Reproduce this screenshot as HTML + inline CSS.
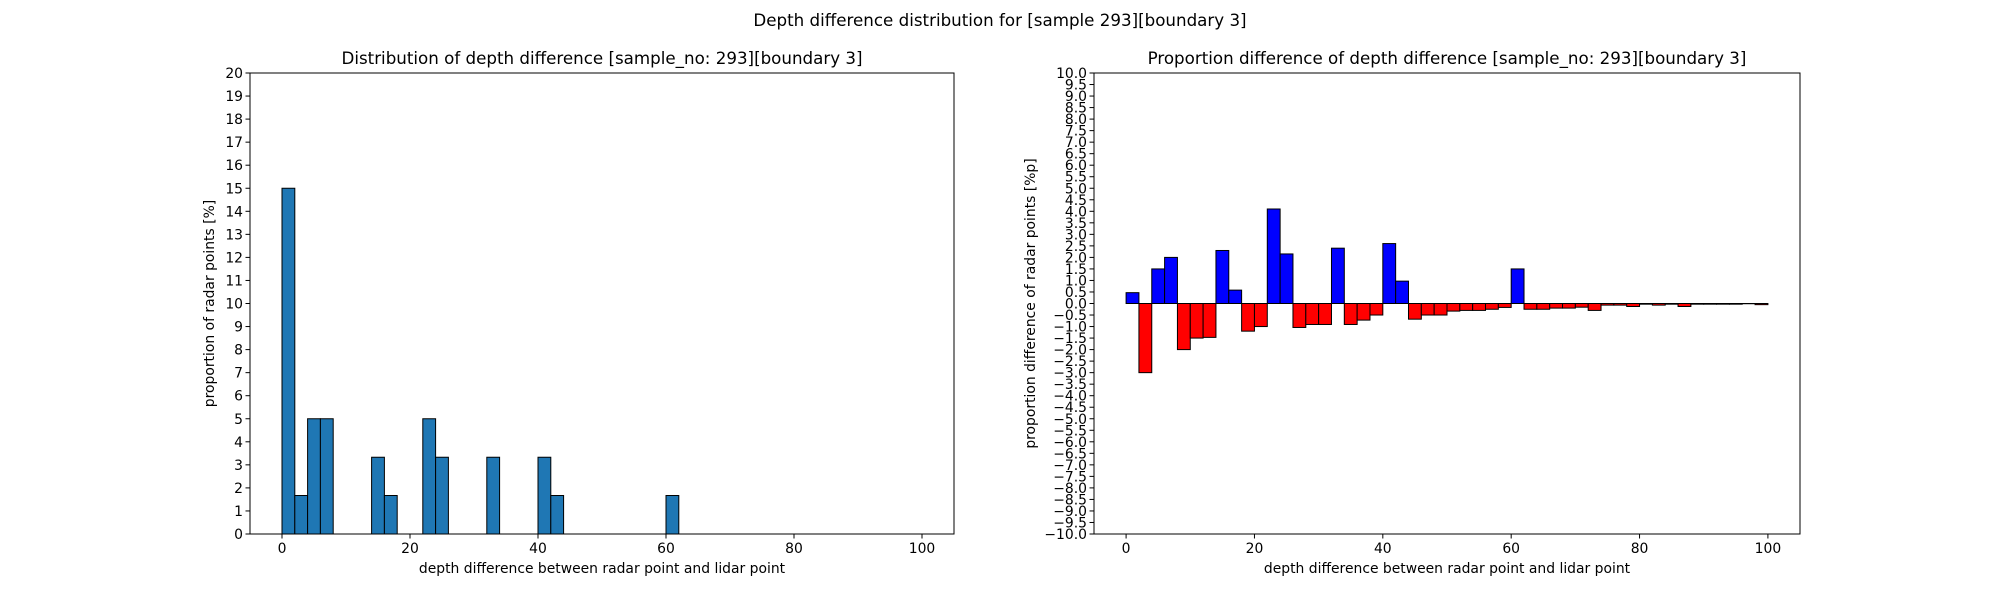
<!DOCTYPE html>
<html><head><meta charset="utf-8"><style>
html,body{margin:0;padding:0;background:#fff;}
svg text{font-family:"DejaVu Sans","Liberation Sans",sans-serif;fill:#000;}
</style></head><body>
<svg id="fig" width="2000" height="600" xmlns="http://www.w3.org/2000/svg">
<text x="1000" y="26" font-size="16.7" text-anchor="middle">Depth difference distribution for [sample 293][boundary 3]</text>
<g id="left"></g>
<g id="right"></g>
</svg>
<script>
const leftBinStarts=[0,2,4,6,14,16,22,24,32,40,42,60];
const leftValues=[15,1.67,5,5,3.33,1.67,5,3.33,3.33,3.33,1.67,1.67];
const leftYTicks=[0,1,2,3,4,5,6,7,8,9,10,11,12,13,14,15,16,17,18,19,20];
const xTicks=[0,20,40,60,80,100];
const rightBinStarts=[0,2,4,6,8,10,12,14,16,18,20,22,24,26,28,30,32,34,36,38,40,42,44,46,48,50,52,54,56,58,60,62,64,66,68,70,72,74,76,78,80,82,84,86,88,90,92,94,96,98];
const rightValues=[0.47,-3.0,1.5,2.0,-2.0,-1.5,-1.47,2.3,0.58,-1.2,-1.0,4.1,2.15,-1.04,-0.91,-0.91,2.4,-0.91,-0.72,-0.5,2.6,0.97,-0.68,-0.5,-0.5,-0.33,-0.3,-0.3,-0.25,-0.17,1.5,-0.25,-0.25,-0.2,-0.2,-0.16,-0.3,-0.07,-0.07,-0.13,-0.03,-0.07,-0.03,-0.13,-0.03,-0.03,-0.03,-0.03,-0.01,-0.05];
const rightYTicks=[];for(let i=0;i<=40;i++)rightYTicks.push(-10+i*0.5);
const binWidth=2;

const NS="http://www.w3.org/2000/svg";
function mk(parent,tag,attrs){const e=document.createElementNS(NS,tag);for(const k in attrs)e.setAttribute(k,attrs[k]);parent.appendChild(e);return e;}
function fmt(v){let s=v.toFixed(1);if(v<0)s="\u2212"+(-v).toFixed(1);return s;}

function drawChart(g,o){
  const {x0,x1,y0,y1,xmin,xmax,ymin,ymax}=o;
  const sx=v=>x0+(v-xmin)/(xmax-xmin)*(x1-x0);
  const sy=v=>y1-(v-ymin)/(ymax-ymin)*(y1-y0);
  // bars
  o.starts.forEach((b,i)=>{
    const v=o.values[i];
    const r=mk(g,'rect',{x:sx(b),y:Math.min(sy(v),sy(0)),width:sx(b+binWidth)-sx(b),height:Math.abs(sy(v)-sy(0)),fill:o.color?o.color:(v>=0?'#0000ff':'#ff0000'),stroke:'#000','stroke-width':1});
    
    
  });
  // frame
  const f=mk(g,'rect',{x:x0,y:y0,width:x1-x0,height:y1-y0,fill:'none',stroke:'#000','stroke-width':1});
  
  
  // x ticks
  xTicks.forEach(t=>{
    const x=sx(t);
    mk(g,'line',{x1:x,x2:x,y1:y1,y2:y1+4.5,stroke:'#000','stroke-width':1});
    const tx=mk(g,'text',{x:x,y:y1+19,'font-size':13.9,'text-anchor':'middle'});
    tx.textContent=t;
    
    
  });
  // y ticks
  o.yticks.forEach(t=>{
    const y=sy(t);
    mk(g,'line',{x1:x0-4.5,x2:x0,y1:y,y2:y,stroke:'#000','stroke-width':1});
    const tx=mk(g,'text',{x:x0-7,y:y+5,'font-size':13.9,'text-anchor':'end'});
    tx.textContent=o.decimal?fmt(t):t;
    
    
  });
  const tt=mk(g,'text',{x:(x0+x1)/2,y:y0-9,'font-size':16.7,'text-anchor':'middle'});
  tt.textContent=o.title;
  
  
  const xl=mk(g,'text',{x:(x0+x1)/2,y:573,'font-size':13.9,'text-anchor':'middle'});
  xl.textContent='depth difference between radar point and lidar point';
  
  
  const yx=o.ylabelX, yy=(y0+y1)/2;
  const yl=mk(g,'text',{x:yx,y:yy,'font-size':13.9,'text-anchor':'middle',transform:`rotate(-90 ${yx} ${yy})`});
  yl.textContent=o.ylabel;
  
  
}
drawChart(document.getElementById('left'),{x0:250,x1:954,y0:73,y1:534,xmin:-5,xmax:105,ymin:0,ymax:20,starts:leftBinStarts,values:leftValues,color:'#1f77b4',yticks:leftYTicks,decimal:false,title:'Distribution of depth difference [sample_no: 293][boundary 3]',ylabel:'proportion of radar points [%]',ylabelX:214});
drawChart(document.getElementById('right'),{x0:1094,x1:1800,y0:73,y1:534,xmin:-5,xmax:105,ymin:-10,ymax:10,starts:rightBinStarts,values:rightValues,yticks:rightYTicks,decimal:true,title:'Proportion difference of depth difference [sample_no: 293][boundary 3]',ylabel:'proportion difference of radar points [%p]',ylabelX:1035});
</script>
</body></html>
